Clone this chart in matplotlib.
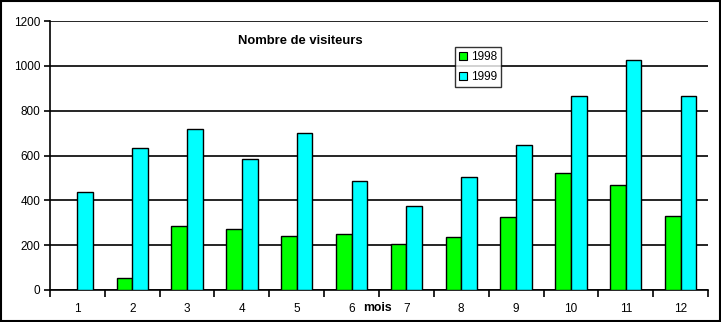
import numpy as np
import matplotlib
matplotlib.use("Agg")
import matplotlib.pyplot as plt
from matplotlib.patches import Rectangle

months = [str(m) for m in range(1, 13)]
visits_1998 = [0, 52, 284, 271, 240, 249, 204, 236, 324, 520, 468, 329]
visits_1999 = [436, 632, 717, 583, 699, 486, 373, 503, 647, 864, 1025, 864]
yticks = [0, 200, 400, 600, 800, 1000, 1200]

plt.rcParams.update({"font.family": ["Liberation Sans", "DejaVu Sans"], "font.size": 8.5})

fig = plt.figure(figsize=(7.21, 3.22), dpi=100)
fig.patch.set_facecolor("white")
fig.add_artist(Rectangle((0.0015, 0.003), 0.997, 0.994, transform=fig.transFigure,
                         fill=False, edgecolor="black", linewidth=1.5))
ax = fig.add_axes([50 / 721, 1 - 290 / 322, 658 / 721, 269 / 322])

x = np.arange(len(months))
w = 0.285
ax.bar(x - w / 2, visits_1998, w, color="#00ff00", edgecolor="black", linewidth=1,
       label="1998", zorder=3)
ax.bar(x + w / 2, visits_1999, w, color="#00ffff", edgecolor="black", linewidth=1,
       label="1999", zorder=3)

ax.set_xlim(-0.5, len(months) - 0.5)
ax.set_ylim(0, 1200)
ax.set_yticks(yticks)
ax.yaxis.grid(True, color="black", linewidth=1.2, zorder=0)
for s in ("top", "right"):
    ax.spines[s].set_visible(False)
ax.spines["left"].set_linewidth(1.2)
ax.spines["bottom"].set_linewidth(1.2)

# ticks between categories, labels centred under the groups
ax.set_xticks(np.arange(len(months) + 1) - 0.5)
ax.set_xticklabels([])
ax.set_xticks(x, minor=True)
ax.set_xticklabels(months, minor=True)
ax.tick_params(axis="x", which="major", length=5, width=1.2, direction="out")
ax.tick_params(axis="x", which="minor", length=0, pad=9)
ax.tick_params(axis="y", length=4, width=1.2, direction="out", pad=3)

ax.text(0.38, 0.925, "Nombre de visiteurs", transform=ax.transAxes, ha="center",
        va="center", fontsize=9.4, fontweight="bold")
ax.text(5.48, -0.066, "mois", transform=ax.get_xaxis_transform(), ha="center",
        va="center", fontsize=8.8, fontweight="bold")

leg = ax.legend(loc="upper left", bbox_to_anchor=(0.6065, 0.9265), frameon=True,
                fancybox=False, edgecolor="black", handlelength=0.7, handleheight=0.7,
                handletextpad=0.3, borderpad=0.35, labelspacing=0.7, fontsize=8.5)
leg.get_frame().set_linewidth(1.0)
for p in leg.get_patches():
    p.set_linewidth(0.8)

plt.savefig("out.png", dpi=100)
